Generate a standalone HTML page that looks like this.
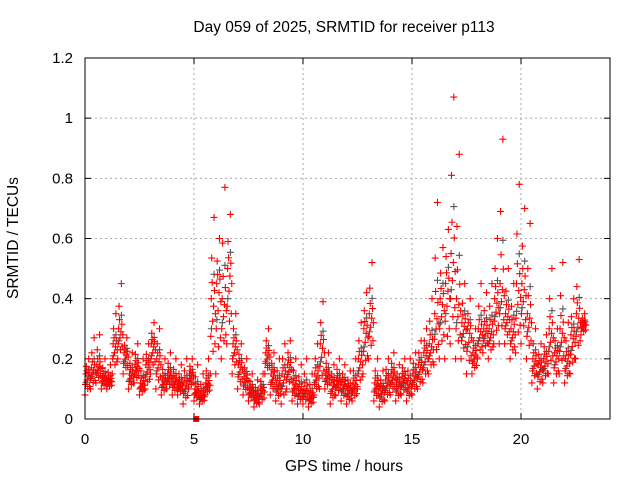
<!DOCTYPE html>
<html><head><meta charset="utf-8"><style>
body{margin:0;background:#fff;}
svg{display:block;font-family:"Liberation Sans",sans-serif;}
</style></head><body>
<svg id="chart" width="640" height="480">
<text x="344" y="32" font-size="15.5" text-anchor="middle">Day 059 of 2025, SRMTID for receiver p113</text>
<text x="344" y="471" font-size="15.5" text-anchor="middle">GPS time / hours</text>
<text transform="translate(18,238) rotate(-90)" font-size="15.5" text-anchor="middle">SRMTID / TECUs</text>
<g id="grid"></g><g id="ticks"></g><g id="marks"></g>
<rect x="85" y="58" width="525" height="361" fill="none" stroke="#000" stroke-width="1"/>
</svg>
<script>
const times=[0,0.25,0.5,0.75,1,1.25,1.5,1.75,2,2.25,2.5,2.75,3,3.25,3.5,3.75,4,4.25,4.5,4.75,5,5.25,5.5,5.75,6,6.25,6.5,6.75,7,7.25,7.5,7.75,8,8.25,8.5,8.75,9,9.25,9.5,9.75,10,10.25,10.5,10.75,11,11.25,11.5,11.75,12,12.25,12.5,12.75,13,13.25,13.5,13.75,14,14.25,14.5,14.75,15,15.25,15.5,15.75,16,16.25,16.5,16.75,17,17.25,17.5,17.75,18,18.25,18.5,18.75,19,19.25,19.5,19.75,20,20.25,20.5,20.75,21,21.25,21.5,21.75,22,22.25,22.5,22.75];
const lowVals=[0.08,0.1,0.12,0.1,0.1,0.15,0.2,0.15,0.1,0.12,0.08,0.1,0.15,0.1,0.08,0.1,0.08,0.08,0.05,0.1,0.06,0.05,0.08,0.15,0.15,0.2,0.25,0.15,0.1,0.08,0.06,0.04,0.05,0.15,0.08,0.06,0.05,0.1,0.06,0.05,0.05,0.04,0.08,0.1,0.1,0.05,0.08,0.06,0.05,0.06,0.1,0.15,0.2,0.06,0.04,0.06,0.08,0.06,0.08,0.06,0.08,0.1,0.12,0.15,0.18,0.2,0.2,0.25,0.2,0.2,0.15,0.15,0.2,0.22,0.2,0.25,0.25,0.25,0.2,0.22,0.25,0.2,0.12,0.1,0.12,0.15,0.12,0.15,0.12,0.15,0.2,0.28];
const midVals=[0.15,0.17,0.18,0.14,0.13,0.25,0.3,0.22,0.15,0.18,0.12,0.18,0.25,0.2,0.13,0.15,0.13,0.12,0.12,0.15,0.1,0.08,0.12,0.4,0.45,0.4,0.5,0.25,0.18,0.14,0.1,0.08,0.1,0.22,0.15,0.12,0.15,0.18,0.12,0.1,0.1,0.08,0.15,0.25,0.15,0.12,0.13,0.12,0.1,0.12,0.2,0.3,0.35,0.12,0.1,0.13,0.15,0.12,0.14,0.12,0.15,0.18,0.22,0.25,0.35,0.4,0.45,0.55,0.4,0.32,0.3,0.22,0.3,0.3,0.3,0.4,0.45,0.35,0.3,0.45,0.45,0.35,0.2,0.18,0.2,0.3,0.22,0.3,0.2,0.28,0.35,0.32];
const highVals=[0.2,0.27,0.28,0.2,0.18,0.35,0.45,0.27,0.22,0.25,0.2,0.25,0.32,0.3,0.2,0.22,0.2,0.18,0.2,0.2,0.18,0.15,0.2,0.67,0.6,0.77,0.68,0.35,0.25,0.2,0.15,0.13,0.15,0.3,0.22,0.2,0.25,0.26,0.2,0.18,0.2,0.15,0.25,0.39,0.22,0.18,0.2,0.18,0.16,0.2,0.32,0.42,0.52,0.2,0.16,0.2,0.22,0.18,0.2,0.2,0.22,0.26,0.3,0.4,0.72,0.57,0.63,1.07,0.88,0.45,0.4,0.3,0.45,0.42,0.45,0.6,0.93,0.5,0.45,0.78,0.7,0.65,0.3,0.25,0.28,0.5,0.3,0.52,0.32,0.4,0.53,0.35];
const xTicks=[0,5,10,15,20];
const yTicks=[0,0.2,0.4,0.6,0.8,1,1.2];
const yTickLabels=["0","0.2","0.4","0.6","0.8","1","1.2"];
const NS="http://www.w3.org/2000/svg";
function X(t){return 85+t*21.8;}
function Y(v){return 419-v*(361/1.2);}
function mk(tag,attrs,parent){const e=document.createElementNS(NS,tag);for(const k in attrs)e.setAttribute(k,attrs[k]);parent.appendChild(e);return e;}
const grid=document.getElementById('grid'),ticks=document.getElementById('ticks'),marks=document.getElementById('marks');
yTicks.forEach((v,i)=>{
  if(i>0&&i<yTicks.length-1){const g=mk('line',{x1:85,x2:610,y1:Y(v),y2:Y(v),stroke:'#aaa','stroke-dasharray':'2,3'},grid);
  
  }
  const l=mk('text',{x:73,y:Y(v)+5,'font-size':15,'text-anchor':'end'},ticks);l.textContent=yTickLabels[i];
  
  
  mk('line',{x1:85,x2:91,y1:Y(v),y2:Y(v),stroke:'#000'},ticks);
  mk('line',{x1:604,x2:610,y1:Y(v),y2:Y(v),stroke:'#000'},ticks);
});
xTicks.forEach(t=>{
  if(t>0){const g=mk('line',{x1:X(t),x2:X(t),y1:58,y2:419,stroke:'#aaa','stroke-dasharray':'2,3'},grid);
  
  }
  const l=mk('text',{x:X(t),y:444,'font-size':15,'text-anchor':'middle'},ticks);l.textContent=String(t);
  
  
  mk('line',{x1:X(t),x2:X(t),y1:419,y2:413,stroke:'#000'},ticks);
  mk('line',{x1:X(t),x2:X(t),y1:58,y2:64,stroke:'#000'},ticks);
});
function plus(t,v,color,name){
  const x=X(t),y=Y(v);
  const p=mk('path',{d:`M${x-3.5},${y}h7M${x},${y-3.5}v7`,stroke:color,'stroke-width':1.1,fill:'none'},marks);
  
  
}
// mix weights placing marks within each bin's low–mid–high spread
const fr=[0,0.5,1,1.5,1.2,0.7,0.3,0.9,2,1.1,0.4,0.8];
times.forEach((t,i)=>{
  const l=lowVals[i],m=midVals[i],h=highVals[i];
  const val=f=>f<=1?l+(m-l)*f:m+(h-m)*(f-1);
  plus(t+0.05,val(0.6),'#555','gray-point');
  plus(t+0.17,val(1.3),'#555','gray-point');
  fr.forEach((f,k)=>plus(t+k*0.021,val(f),'#f00','red-point'));
});
const sq=mk('rect',{x:X(5.1)-3,y:Y(0)-3,width:6,height:6,fill:'#f00'},marks);


</script>
</body></html>
